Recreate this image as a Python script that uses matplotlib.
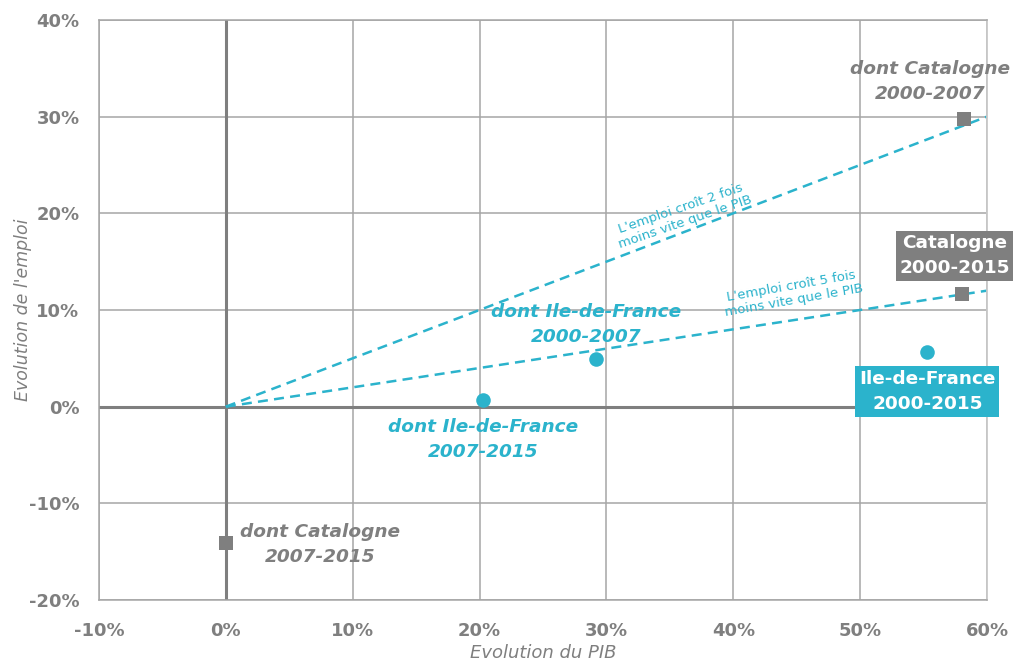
import numpy as np
import matplotlib
matplotlib.use('Agg')
import matplotlib.pyplot as plt
from matplotlib.ticker import FuncFormatter

# Evolution du PIB (x) et de l'emploi (y), en %
cat_labels = ['dont Catalogne\n2000-2007', 'Catalogne\n2000-2015', 'dont Catalogne\n2007-2015']
cat_x = [58.2, 58.0, 0.0]
cat_y = [29.8, 11.7, -14.1]

idf_labels = ['Ile-de-France\n2000-2015', 'dont Ile-de-France\n2000-2007', 'dont Ile-de-France\n2007-2015']
idf_x = [55.3, 29.2, 20.3]
idf_y = [5.7, 4.9, 0.7]

# droites de reference : emploi = PIB / ratio
ratios = [2, 5]
ratio_labels = ["L'emploi croît 2 fois\nmoins vite que le PIB",
                "L'emploi croît 5 fois\nmoins vite que le PIB"]

x_ticks = [-10, 0, 10, 20, 30, 40, 50, 60]
y_ticks = [-20, -10, 0, 10, 20, 30, 40]

gray = '#7f7f7f'
teal = '#2bb3cc'
grid_gray = '#a6a6a6'

plt.rcParams['font.family'] = 'DejaVu Sans'

fig = plt.figure(figsize=(10.13, 6.65), dpi=100)
ax = fig.add_axes([0.0977, 0.0977, 0.8766, 0.8723])

ax.set_xlim(-10, 60)
ax.set_ylim(-20, 40)
ax.set_xticks(x_ticks)
ax.set_yticks(y_ticks)
pct = FuncFormatter(lambda v, p: '%d%%' % v)
ax.xaxis.set_major_formatter(pct)
ax.yaxis.set_major_formatter(pct)
ax.tick_params(axis='x', length=0, labelsize=13, labelcolor=gray, pad=16)
ax.tick_params(axis='y', length=0, labelsize=13, labelcolor=gray, pad=14)
for lab in ax.get_xticklabels() + ax.get_yticklabels():
    lab.set_fontweight('bold')

ax.grid(True, color=grid_gray, linewidth=1.1)
ax.set_axisbelow(True)
for side in ['left', 'bottom', 'top']:
    ax.spines[side].set_color(grid_gray)
    ax.spines[side].set_linewidth(1.1)
ax.spines['right'].set_color('#c8c8c8')
ax.spines['right'].set_linewidth(1.3)

ax.axhline(0, color=gray, linewidth=2.2, zorder=1)
ax.axvline(0, color=gray, linewidth=2.2, zorder=1)

# droites pointillees
xs = np.array([0, 60])
for r in ratios:
    ax.plot(xs, xs / r, linestyle=(0, (4, 2.5)), color=teal, linewidth=1.8, zorder=2)

ax.text(36.0, 19.8, ratio_labels[0], color=teal, fontsize=9.5, rotation=19,
        ha='center', va='center', linespacing=1.1)
ax.text(44.7, 11.7, ratio_labels[1], color=teal, fontsize=9.5, rotation=10,
        ha='center', va='center', linespacing=1.1)

ax.scatter(cat_x, cat_y, marker='s', s=95, color=gray, zorder=4, linewidths=0)
ax.scatter(idf_x, idf_y, marker='o', s=110, color=teal, zorder=4, linewidths=0)

fs = 13.3
ls = 1.5
# etiquettes Catalogne
ax.text(55.5, 33.6, cat_labels[0], color=gray, fontsize=fs, fontweight='bold',
        fontstyle='italic', ha='center', va='center', linespacing=ls)
ax.text(57.45, 15.6, cat_labels[1], color='white', fontsize=fs, fontweight='bold',
        ha='center', va='center', linespacing=ls,
        bbox=dict(boxstyle='square,pad=0.2', fc=gray, ec='none'))
ax.text(7.4, -14.3, cat_labels[2], color=gray, fontsize=fs, fontweight='bold',
        fontstyle='italic', ha='center', va='center', linespacing=ls)

# etiquettes Ile-de-France
ax.text(55.3, 1.55, idf_labels[0], color='white', fontsize=fs, fontweight='bold',
        ha='center', va='center', linespacing=ls,
        bbox=dict(boxstyle='square,pad=0.2', fc=teal, ec='none'))
ax.text(28.4, 8.5, idf_labels[1], color=teal, fontsize=fs, fontweight='bold',
        fontstyle='italic', ha='center', va='center', linespacing=ls)
ax.text(20.3, -3.4, idf_labels[2], color=teal, fontsize=fs, fontweight='bold',
        fontstyle='italic', ha='center', va='center', linespacing=ls)

ax.set_xlabel('Evolution du PIB', color=gray, fontsize=13, fontstyle='italic', labelpad=3)
ax.set_ylabel("Evolution de l'emploi", color=gray, fontsize=12.5, fontstyle='italic', labelpad=-2)

fig.savefig('out.png', dpi=100)
